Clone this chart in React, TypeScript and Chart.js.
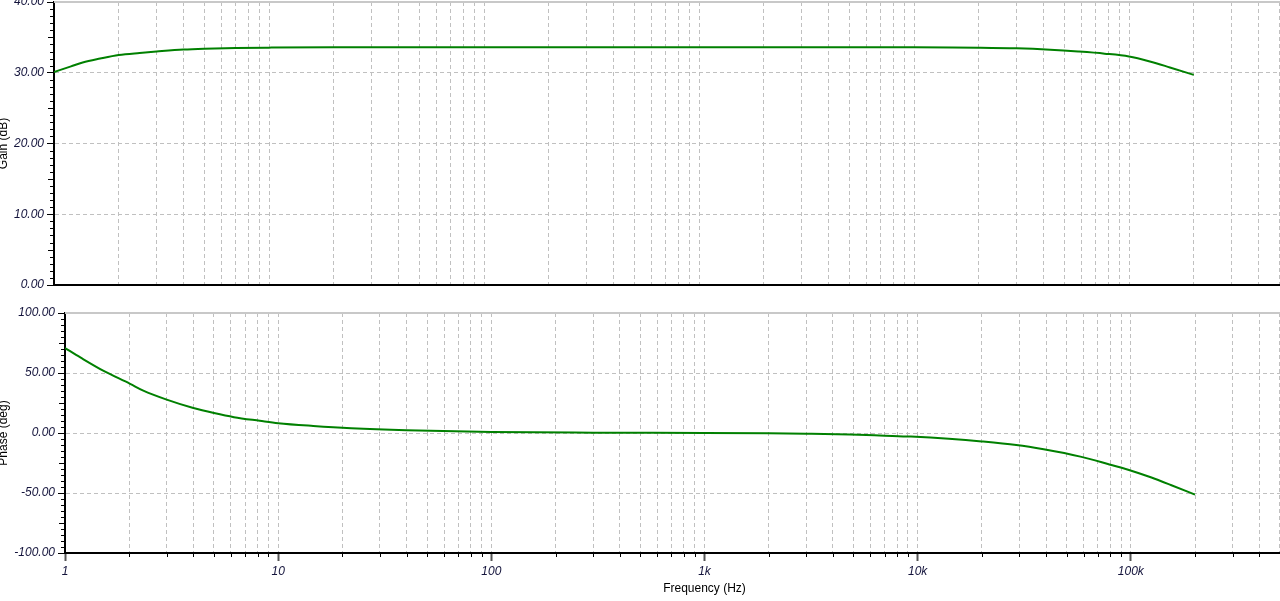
import React, { useEffect, useRef } from "react";
import { Chart, registerables } from "chart.js";

Chart.register(...registerables);

// ---- data ----
const gainFreqHz = [1, 1.2, 1.36, 1.64, 2, 2.5, 3, 4, 5, 7, 10, 20, 50, 100, 1000, 10000, 15000, 20000, 30000, 43000, 58000, 77000, 100000, 125000, 155000, 200000];
const gainDb = [30.1, 30.9, 31.45, 32.0, 32.5, 32.8, 33.0, 33.28, 33.4, 33.5, 33.55, 33.6, 33.6, 33.6, 33.6, 33.6, 33.58, 33.55, 33.45, 33.25, 33.0, 32.7, 32.3, 31.6, 30.75, 29.7];

const phaseFreqHz = [1, 1.18, 1.51, 2.02, 2.33, 3, 4, 5, 6.2, 8.2, 10, 14.6, 22, 40, 100, 300, 1000, 2000, 3000, 4800, 7000, 9300, 14000, 20000, 29000, 39000, 58000, 78000, 98000, 124000, 154000, 200000];
const phaseDeg = [70.8, 63.0, 52.0, 41.0, 35.3, 27.8, 20.8, 16.6, 13.2, 10.2, 8.2, 5.9, 4.0, 2.3, 0.9, 0.3, 0, -0.3, -0.6, -1.2, -2.2, -3.0, -4.8, -7.0, -10, -13.6, -19.7, -25.8, -30.8, -36.9, -43.3, -51.4];

const decadeValues = [1, 10, 100, 1000, 10000, 100000, 1000000];
const decadeLabels = ["1", "10", "100", "1k", "10k", "100k", "1M"];
const gainTicks = [0, 10, 20, 30, 40];
const phaseTicks = [-100, -50, 0, 50, 100];

// ---- styles ----
const FONT = "'Liberation Sans', Arial, sans-serif";
const GRID = "#c0c0c0";
const LINE = "#008000";
const LABEL = "#14143c";

function logGridValues(): number[] {
  const out: number[] = [];
  for (const d of decadeValues) {
    if (d === decadeValues[decadeValues.length - 1]) {
      out.push(d);
      break;
    }
    for (let m = 1; m <= 9; m++) out.push(m * d);
  }
  return out;
}

const isDecade = (v: number) => decadeValues.includes(v);

const decor = {
  id: "decor",
  afterDraw(chart: any, _args: any, opts: any) {
    const { ctx, chartArea: a } = chart;
    const y = chart.scales.y;
    const x = chart.scales.x;
    ctx.save();
    // light frame line on top of the plot
    ctx.strokeStyle = "#c8c8c8";
    ctx.lineWidth = 2;
    ctx.beginPath();
    ctx.moveTo(a.left, a.top);
    ctx.lineTo(a.right, a.top);
    ctx.stroke();
    // minor y ticks
    ctx.strokeStyle = "#000";
    ctx.lineWidth = 1;
    const { minorStep, midStep, majorStep } = opts;
    for (let v = y.min; v <= y.max + 1e-9; v += minorStep) {
      const r = Math.round(v * 1000) / 1000;
      if (Math.abs(r % majorStep) < 1e-6) continue;
      const len = Math.abs(r % midStep) < 1e-6 ? 5 : 3;
      const py = Math.round(y.getPixelForValue(r)) + 0.5;
      ctx.beginPath();
      ctx.moveTo(a.left - 1 - len, py);
      ctx.lineTo(a.left - 1, py);
      ctx.stroke();
    }
    // minor x ticks
    if (opts.xMinor) {
      for (const t of x.ticks) {
        if (isDecade(t.value)) continue;
        const px = Math.round(x.getPixelForValue(t.value)) + 0.5;
        ctx.beginPath();
        ctx.moveTo(px, a.bottom + 1);
        ctx.lineTo(px, a.bottom + 4);
        ctx.stroke();
      }
    }
    ctx.restore();
  },
};

function xScale(showLabels: boolean) {
  return {
    type: "logarithmic",
    min: 1,
    max: 1000000,
    afterBuildTicks: (s: any) => {
      s.ticks = logGridValues().map((v) => ({ value: v }));
    },
    afterFit: (s: any) => {
      s.paddingLeft = 0;
      s.paddingRight = 0;
      s.height = showLabels ? 48 : 0;
    },
    ticks: {
      display: showLabels,
      autoSkip: false,
      maxRotation: 0,
      minRotation: 0,
      padding: 3,
      color: LABEL,
      font: { family: FONT, size: 12, style: "italic" },
      callback: (v: any) => {
        const i = decadeValues.indexOf(Number(v));
        return i >= 0 ? decadeLabels[i] : "";
      },
    },
    grid: {
      color: GRID,
      lineWidth: 1,
      drawTicks: showLabels,
      tickLength: 8,
      tickColor: (c: any) => (c.tick && isDecade(c.tick.value) ? "#555" : "rgba(0,0,0,0)"),
      tickWidth: (c: any) => (c.tick && isDecade(c.tick.value) ? 2 : 1),
    },
    border: { display: true, color: "#000", width: 2, dash: [4, 3] },
    title: {
      display: showLabels,
      text: "Frequency (Hz)",
      color: "#000",
      font: { family: FONT, size: 12 },
      padding: { top: 0, bottom: 5 },
    },
  };
}

function yScale(min: number, max: number, ticks: number[], width: number, title: string) {
  return {
    min,
    max,
    afterBuildTicks: (s: any) => {
      s.ticks = ticks.map((v) => ({ value: v }));
    },
    afterFit: (s: any) => {
      s.width = width;
      s.paddingTop = 0;
      s.paddingBottom = 0;
    },
    ticks: {
      padding: 3,
      color: LABEL,
      font: { family: FONT, size: 12, style: "italic" },
      callback: (v: any) => Number(v).toFixed(2),
    },
    grid: { color: GRID, lineWidth: 1, drawTicks: true, tickLength: 7, tickColor: "#000" },
    border: { display: true, color: "#000", width: 2, dash: [4, 3] },
    title: {
      display: true,
      text: title,
      color: "#000",
      font: { family: FONT, size: 12 },
      padding: { top: -4, bottom: 0 },
    },
  };
}

function lineDataset(xs: number[], ys: number[]) {
  return {
    data: xs.map((f, i) => ({ x: f, y: ys[i] })),
    borderColor: LINE,
    backgroundColor: LINE,
    borderWidth: 2,
    pointRadius: 0,
    fill: false,
    cubicInterpolationMode: "monotone",
  };
}

export default function App() {
  const topRef = useRef<HTMLCanvasElement>(null);
  const botRef = useRef<HTMLCanvasElement>(null);

  useEffect(() => {
    Chart.defaults.font.family = FONT;
    const top = new Chart(topRef.current as HTMLCanvasElement, {
      type: "line",
      data: { datasets: [lineDataset(gainFreqHz, gainDb) as any] },
      options: {
        responsive: false,
        animation: false,
        devicePixelRatio: 1,
        layout: { padding: { top: 2, bottom: 5, left: 0, right: 0 } },
        plugins: {
          legend: { display: false },
          tooltip: { enabled: false },
          decor: { minorStep: 1, midStep: 5, majorStep: 10, xMinor: false },
        } as any,
        scales: {
          x: xScale(false) as any,
          y: yScale(0, 40, gainTicks, 54, "Gain (dB)") as any,
        },
      },
      plugins: [decor as any],
    });
    const bot = new Chart(botRef.current as HTMLCanvasElement, {
      type: "line",
      data: { datasets: [lineDataset(phaseFreqHz, phaseDeg) as any] },
      options: {
        responsive: false,
        animation: false,
        devicePixelRatio: 1,
        layout: { padding: { top: 23, bottom: 0, left: 0, right: 0 } },
        plugins: {
          legend: { display: false },
          tooltip: { enabled: false },
          decor: { minorStep: 5, midStep: 25, majorStep: 50, xMinor: true },
        } as any,
        scales: {
          x: xScale(true) as any,
          y: yScale(-100, 100, phaseTicks, 65, "Phase (deg)") as any,
        },
      },
      plugins: [decor as any],
    });
    return () => {
      top.destroy();
      bot.destroy();
    };
  }, []);

  return (
    <div
      style={{
        position: "fixed",
        left: 0,
        top: 0,
        width: 1280,
        height: 601,
        overflow: "hidden",
        background: "#fff",
      }}
    >
      <canvas ref={topRef} width={1344} height={290} style={{ position: "absolute", left: 0, top: 0, display: "block" }} />
      <canvas ref={botRef} width={1344} height={311} style={{ position: "absolute", left: 0, top: 290, display: "block" }} />
    </div>
  );
}
